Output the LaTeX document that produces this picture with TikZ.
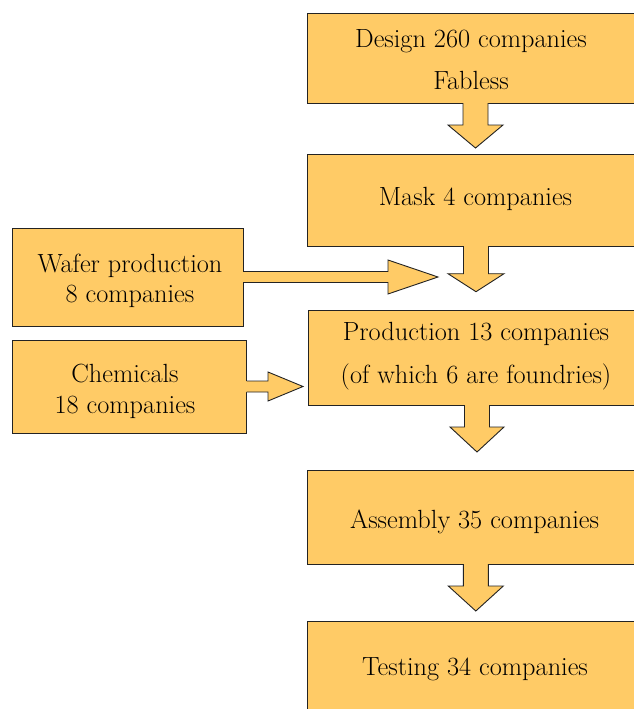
\documentclass[tikz,border=0pt]{standalone}
\definecolor{boxfill}{RGB}{255,203,102}
\definecolor{edge}{RGB}{35,35,35}
% vertical block arrow: from, to, x, gap before target, head length, half shaft, half head
\newcommand\vblk[7]{%
  \coordinate (o) at (#3,0 |- #1.south);
  \path (#3,0 |- #2.north) ++(0,-#4) coordinate (tp);
  \path (tp) ++(0,-#5) coordinate (hb);
  \fill[boxfill] ([xshift=-#6pt,yshift=1pt]o) -- ([xshift=-#6pt]hb) -- ([xshift=-#7pt]hb) -- (tp)
     -- ([xshift=#7pt]hb) -- ([xshift=#6pt]hb) -- ([xshift=#6pt,yshift=1pt]o) -- cycle;
  \draw[blkline] ([xshift=-#6pt]o) -- ([xshift=-#6pt]hb) -- ([xshift=-#7pt]hb) -- (tp)
     -- ([xshift=#7pt]hb) -- ([xshift=#6pt]hb) -- ([xshift=#6pt]o);
}
% horizontal block arrow: from, shaft length, head length, half shaft, half head
\newcommand\hblk[5]{%
  \coordinate (o) at (#1.east);
  \path (o) ++(#2,0) coordinate (hb);
  \path (hb) ++(#3,0) coordinate (tp);
  \fill[boxfill] ([xshift=-1pt,yshift=#4pt]o) -- ([yshift=#4pt]hb) -- ([yshift=#5pt]hb) -- (tp)
     -- ([yshift=-#5pt]hb) -- ([yshift=-#4pt]hb) -- ([xshift=-1pt,yshift=-#4pt]o) -- cycle;
  \draw[blkline] ([yshift=#4pt]o) -- ([yshift=#4pt]hb) -- ([yshift=#5pt]hb) -- (tp)
     -- ([yshift=-#5pt]hb) -- ([yshift=-#4pt]hb) -- ([yshift=-#4pt]o);
}
\begin{document}
\begin{tikzpicture}[x=1pt,y=-1pt,
  box/.style={draw=edge, fill=boxfill, line width=0.9pt, rectangle, inner sep=0pt,
              outer sep=0pt, anchor=north west},
  txt/.style={font=\fontsize{26.3}{31}\selectfont, inner sep=0pt, anchor=base, text=black},
  blkline/.style={draw=edge, line width=0.9pt, line join=miter}]
\clip (0,0) rectangle (634,709);
\fill[white] (0,0) rectangle (634,709);

% boxes
\node[box, minimum width=328pt, minimum height=90pt] (design) at (307,13) {};
\node[box, minimum width=336pt, minimum height=92pt] (mask) at (307,154) {};
\node[box, minimum width=231pt, minimum height=98pt] (wafer) at (12,228) {};
\node[box, minimum width=336pt, minimum height=95pt] (prod) at (308,310) {};
\node[box, minimum width=234.5pt, minimum height=93pt] (chem) at (12,340) {};
\node[box, minimum width=336pt, minimum height=94pt] (assembly) at (307,470) {};
\node[box, minimum width=336pt, minimum height=100pt] (testing) at (307,621) {};

% texts
\node[txt] (designA) at (471,48) {Design 260 companies};
\node[txt] (designB) at (471,89) {Fabless};
\node[txt] (maskT) at (475.5,205) {Mask 4 companies};
\node[txt] (waferA) at (130,272) {Wafer production};
\node[txt] (waferB) at (130,302) {8 companies};
\node[txt] (prodA) at (476,340) {Production 13 companies};
\node[txt] (prodB) at (476,383) {(of which 6 are foundries)};
\node[txt] (chemA) at (125,382) {Chemicals};
\node[txt] (chemB) at (125,413) {18 companies};
\node[txt] (assemblyT) at (474.5,528) {Assembly 35 companies};
\node[txt] (testingT) at (475,675) {Testing 34 companies};

% block arrows
\vblk{design}{mask}{475.5}{6}{23}{12.5}{27.5}
\vblk{mask}{prod}{476}{18.3}{18}{12.5}{28}
\vblk{prod}{assembly}{477}{18}{25}{12.5}{27}
\vblk{assembly}{testing}{475.8}{10}{25}{12.5}{27.5}
\hblk{wafer}{145}{50}{5.5}{17}
\hblk{chem}{21.5}{35}{5.5}{14.5}
\end{tikzpicture}
\end{document}
